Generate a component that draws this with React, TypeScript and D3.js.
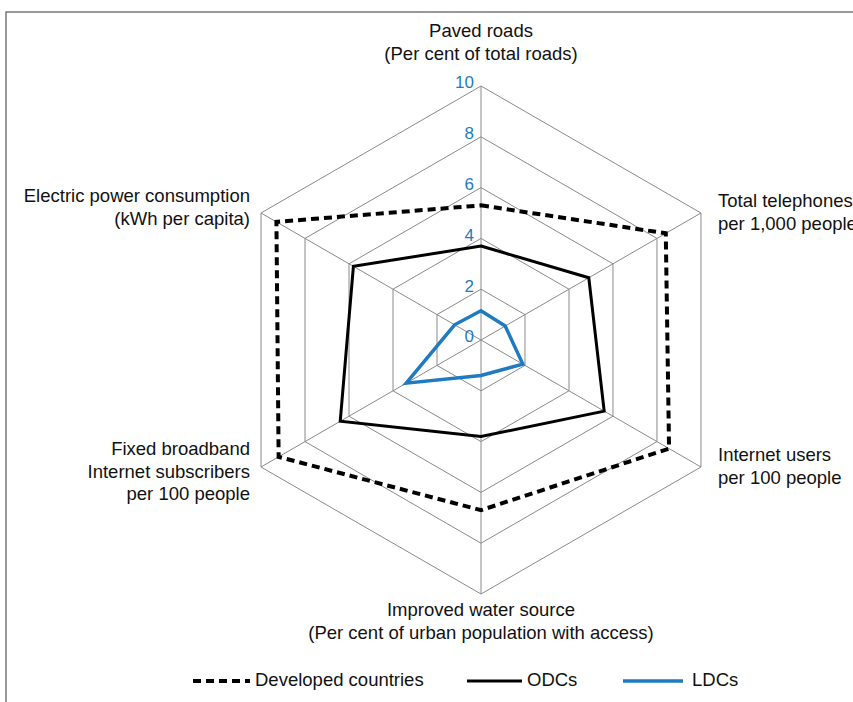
import React from "react";
import * as d3 from "d3";

const axes = [
  ["Paved roads", "(Per cent of total roads)"],
  ["Total telephones", "per 1,000 people"],
  ["Internet users", "per 100 people"],
  ["Improved water source", "(Per cent of urban population with access)"],
  ["Fixed broadband", "Internet subscribers", "per 100 people"],
  ["Electric power consumption", "(kWh per capita)"],
];
const developed = [5.3, 8.4, 8.55, 6.7, 9.2, 9.3];
const odcs = [3.7, 4.9, 5.6, 3.8, 6.4, 5.8];
const ldcs = [1.15, 1.1, 1.9, 1.4, 3.4, 1.2];
const ticks = [0, 2, 4, 6, 8, 10];
const legendLabels = ["Developed countries", "ODCs", "LDCs"];

const W = 853, H = 702;
const cx = 481, cy = 340, R = 254;
const FONT = "Arial, 'Liberation Sans', sans-serif";
const BLUE = "#1f7bc0";

export default function App() {
  const r = d3.scaleLinear().domain([0, 10]).range([0, R]);
  const angle = (i: number) => (i * Math.PI * 2) / axes.length;
  const pt = (i: number, v: number): [number, number] => [
    cx + r(v) * Math.sin(angle(i)),
    cy - r(v) * Math.cos(angle(i)),
  ];
  const line = d3.line<[number, number]>().curve(d3.curveLinearClosed);
  const poly = (vals: number[]) => line(vals.map((v, i) => pt(i, v))) || "";

  const labelPos = [
    { x: cx, y: 32, anchor: "middle" },
    { x: 718, y: 202, anchor: "start" },
    { x: 718, y: 456, anchor: "start" },
    { x: cx, y: 611, anchor: "middle" },
    { x: 250, y: 450, anchor: "end" },
    { x: 250, y: 197, anchor: "end" },
  ];

  const series = [
    { vals: developed, color: "#000", width: 4, dash: "8,5" },
    { vals: odcs, color: "#000", width: 3, dash: "" },
    { vals: ldcs, color: BLUE, width: 3.5, dash: "" },
  ];
  const legendX = [193, 467, 623];
  const legendLen = [57, 55, 60];

  return (
    <svg
      width={W}
      height={H}
      style={{ position: "fixed", left: 0, top: 0, background: "#fff" }}
      fontFamily={FONT}
    >
      <rect x={6} y={12} width={900} height={760} fill="#fff" stroke="#777" strokeWidth={1.5} />
      {ticks.filter((t) => t > 0).map((t) => (
        <path
          key={t}
          d={poly(axes.map(() => t))}
          fill="none"
          stroke="#8a8a8a"
          strokeWidth={1}
        />
      ))}
      {axes.map((_, i) => {
        const [x, y] = pt(i, 10);
        return <line key={i} x1={cx} y1={cy} x2={x} y2={y} stroke="#8a8a8a" strokeWidth={1} />;
      })}
      {series.map((s, k) => (
        <path
          key={k}
          d={poly(s.vals)}
          fill="none"
          stroke={s.color}
          strokeWidth={s.width}
          strokeDasharray={s.dash || undefined}
          strokeLinejoin="miter"
        />
      ))}
      {ticks.map((t) => (
        <text
          key={t}
          x={cx - 7}
          y={cy - r(t) - 2}
          textAnchor="end"
          dominantBaseline="middle"
          fill={BLUE}
          fontSize={17}
        >
          {t}
        </text>
      ))}
      {axes.map((lines, i) => (
        <text
          key={i}
          x={labelPos[i].x}
          y={labelPos[i].y}
          textAnchor={labelPos[i].anchor as any}
          fontSize={18.5}
          fill="#111"
          dominantBaseline="middle"
        >
          {lines.map((l, j) => (
            <tspan key={j} x={labelPos[i].x} dy={j === 0 ? 0 : 22.5}>
              {l}
            </tspan>
          ))}
        </text>
      ))}
      {legendLabels.map((l, k) => (
        <g key={k}>
          <line
            x1={legendX[k]}
            x2={legendX[k] + legendLen[k]}
            y1={681}
            y2={681}
            stroke={series[k].color}
            strokeWidth={series[k].width}
            strokeDasharray={series[k].dash || undefined}
          />
          <text
            x={legendX[k] + legendLen[k] + (k === 2 ? 9 : 5)}
            y={681}
            dominantBaseline="middle"
            fontSize={18.5}
            fill="#111"
          >
            {l}
          </text>
        </g>
      ))}
    </svg>
  );
}
